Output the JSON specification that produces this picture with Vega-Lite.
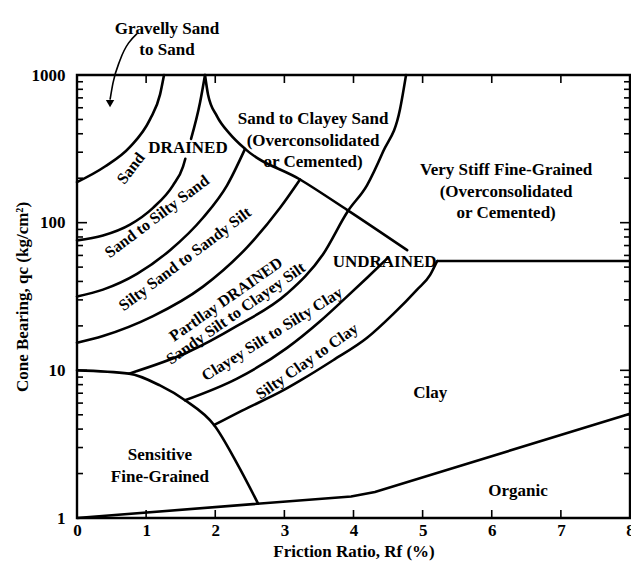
{
  "$schema": "https://vega.github.io/schema/vega-lite/v6.json",
  "width": 553,
  "height": 443,
  "autosize": {"type": "none"},
  "padding": {"left": 77, "top": 75, "right": 1, "bottom": 47},
  "background": "white",
  "config": {
    "view": {"stroke": "black", "strokeWidth": 2.4},
    "font": "Liberation Serif",
    "axis": {
      "labelFont": "Liberation Serif", "labelFontSize": 17, "labelFontWeight": "bold", "labelColor": "black",
      "titleFont": "Liberation Serif", "titleFontSize": 17, "titleFontWeight": "bold", "titleColor": "black",
      "ticks": false, "domain": false, "grid": false, "labelFlush": false
    },
    "text": {"font": "Liberation Serif", "fontWeight": "bold", "color": "black"}
  },
  "datasets": {
    "curves": [
      {"id": "a1", "x": 0, "y": 188}, {"id": "a1", "x": 0.405, "y": 240}, {"id": "a1", "x": 0.767, "y": 326}, {"id": "a1", "x": 1.056, "y": 501}, {"id": "a1", "x": 1.201, "y": 736}, {"id": "a1", "x": 1.259, "y": 1000},
      {"id": "a2lo", "x": 0, "y": 75.9}, {"id": "a2lo", "x": 0.376, "y": 81.9}, {"id": "a2lo", "x": 0.767, "y": 97}, {"id": "a2lo", "x": 1.1, "y": 126}, {"id": "a2lo", "x": 1.389, "y": 179}, {"id": "a2lo", "x": 1.534, "y": 240}, {"id": "a2lo", "x": 1.567, "y": 271},
      {"id": "a2hi", "x": 1.65, "y": 369}, {"id": "a2hi", "x": 1.78, "y": 651}, {"id": "a2hi", "x": 1.852, "y": 1000},
      {"id": "diag", "x": 1.852, "y": 1000}, {"id": "diag", "x": 1.896, "y": 736}, {"id": "diag", "x": 2.026, "y": 525}, {"id": "diag", "x": 2.214, "y": 398}, {"id": "diag", "x": 2.431, "y": 316}, {"id": "diag", "x": 3.227, "y": 196}, {"id": "diag", "x": 3.907, "y": 122}, {"id": "diag", "x": 4.776, "y": 65.1},
      {"id": "a3", "x": 0, "y": 31.6}, {"id": "a3", "x": 0.376, "y": 35.2}, {"id": "a3", "x": 0.868, "y": 45.0}, {"id": "a3", "x": 1.346, "y": 65.1}, {"id": "a3", "x": 1.823, "y": 108}, {"id": "a3", "x": 2.171, "y": 179}, {"id": "a3", "x": 2.431, "y": 316},
      {"id": "a4", "x": 0, "y": 15.4}, {"id": "a4", "x": 0.376, "y": 17.1}, {"id": "a4", "x": 1.1, "y": 23.3}, {"id": "a4", "x": 1.823, "y": 36.9}, {"id": "a4", "x": 2.46, "y": 68.1}, {"id": "a4", "x": 2.938, "y": 126}, {"id": "a4", "x": 3.227, "y": 196},
      {"id": "sens", "x": 0, "y": 10}, {"id": "sens", "x": 0.753, "y": 9.5}, {"id": "sens", "x": 1.2, "y": 7.9}, {"id": "sens", "x": 1.563, "y": 6.27}, {"id": "sens", "x": 1.983, "y": 4.26}, {"id": "sens", "x": 2.33, "y": 2.27}, {"id": "sens", "x": 2.62, "y": 1.25},
      {"id": "a5", "x": 0.753, "y": 9.5}, {"id": "a5", "x": 1.592, "y": 13.2}, {"id": "a5", "x": 2.315, "y": 20}, {"id": "a5", "x": 3.039, "y": 33.1}, {"id": "a5", "x": 3.56, "y": 61.2}, {"id": "a5", "x": 3.92, "y": 120}, {"id": "a5", "x": 4.195, "y": 179}, {"id": "a5", "x": 4.427, "y": 302}, {"id": "a5", "x": 4.672, "y": 584}, {"id": "a5", "x": 4.76, "y": 1000},
      {"id": "a6", "x": 1.563, "y": 6.27}, {"id": "a6", "x": 2.315, "y": 8.79}, {"id": "a6", "x": 3.039, "y": 14.2}, {"id": "a6", "x": 3.517, "y": 21.5}, {"id": "a6", "x": 3.878, "y": 30.7}, {"id": "a6", "x": 4.197, "y": 42.4}, {"id": "a6", "x": 4.5, "y": 58},
      {"id": "a7", "x": 1.983, "y": 4.26}, {"id": "a7", "x": 2.388, "y": 5.34}, {"id": "a7", "x": 2.967, "y": 7.25}, {"id": "a7", "x": 3.227, "y": 8.51}, {"id": "a7", "x": 3.705, "y": 11.7}, {"id": "a7", "x": 4.197, "y": 16.6}, {"id": "a7", "x": 4.573, "y": 24.0}, {"id": "a7", "x": 4.92, "y": 35.2}, {"id": "a7", "x": 5.109, "y": 44.3}, {"id": "a7", "x": 5.21, "y": 55}
    ],
    "straight": [
      {"id": "org", "x": 0, "y": 1}, {"id": "org", "x": 3.965, "y": 1.4}, {"id": "org", "x": 4.31, "y": 1.5}, {"id": "org", "x": 8, "y": 5.08},
      {"id": "horiz", "x": 5.21, "y": 55}, {"id": "horiz", "x": 8, "y": 55}
    ],
    "arrow": [
      {"x": 0.868, "y": 1905}, {"x": 0.622, "y": 1259}, {"x": 0.521, "y": 885}, {"x": 0.478, "y": 681}
    ],
    "arrowhead": [{"x": 0.478, "y": 640}],
    "yticksL": [{"x": 0, "y": 2}, {"x": 0, "y": 3}, {"x": 0, "y": 4}, {"x": 0, "y": 5}, {"x": 0, "y": 6}, {"x": 0, "y": 7}, {"x": 0, "y": 8}, {"x": 0, "y": 9}, {"x": 0, "y": 20}, {"x": 0, "y": 30}, {"x": 0, "y": 40}, {"x": 0, "y": 50}, {"x": 0, "y": 60}, {"x": 0, "y": 70}, {"x": 0, "y": 80}, {"x": 0, "y": 90}, {"x": 0, "y": 200}, {"x": 0, "y": 300}, {"x": 0, "y": 400}, {"x": 0, "y": 500}, {"x": 0, "y": 600}, {"x": 0, "y": 700}, {"x": 0, "y": 800}, {"x": 0, "y": 900}],
    "yticksR": [{"x": 8, "y": 2}, {"x": 8, "y": 3}, {"x": 8, "y": 4}, {"x": 8, "y": 5}, {"x": 8, "y": 6}, {"x": 8, "y": 7}, {"x": 8, "y": 8}, {"x": 8, "y": 9}, {"x": 8, "y": 20}, {"x": 8, "y": 30}, {"x": 8, "y": 40}, {"x": 8, "y": 50}, {"x": 8, "y": 60}, {"x": 8, "y": 70}, {"x": 8, "y": 80}, {"x": 8, "y": 90}, {"x": 8, "y": 200}, {"x": 8, "y": 300}, {"x": 8, "y": 400}, {"x": 8, "y": 500}, {"x": 8, "y": 600}, {"x": 8, "y": 700}, {"x": 8, "y": 800}, {"x": 8, "y": 900}],
    "ymajL": [{"x": 0, "y": 10}, {"x": 0, "y": 100}],
    "ymajR": [{"x": 8, "y": 10}, {"x": 8, "y": 100}],
    "xticksT": [{"x": 1, "y": 1000}, {"x": 2, "y": 1000}, {"x": 3, "y": 1000}, {"x": 4, "y": 1000}, {"x": 5, "y": 1000}, {"x": 6, "y": 1000}, {"x": 7, "y": 1000}],
    "xticksB": [{"x": 1, "y": 1}, {"x": 2, "y": 1}, {"x": 3, "y": 1}, {"x": 4, "y": 1}, {"x": 5, "y": 1}, {"x": 6, "y": 1}, {"x": 7, "y": 1}],
    "labels": [
      {"t": "Gravelly Sand\nto Sand", "x": 1.302, "y": 2056},
      {"t": "Sand to Clayey Sand\n(Overconsolidated\nor Cemented)", "x": 3.415, "y": 501},
      {"t": "DRAINED", "x": 1.606, "y": 321},
      {"t": "Very Stiff Fine-Grained\n(Overconsolidated\nor Cemented)", "x": 6.208, "y": 226},
      {"t": "UNDRAINED", "x": 4.45, "y": 54},
      {"t": "Clay", "x": 5.109, "y": 7.02},
      {"t": "Sensitive\nFine-Grained", "x": 1.2, "y": 2.67},
      {"t": "Organic", "x": 6.38, "y": 1.52}
    ],
    "lab52": [{"t": "Sand", "x": 0.78, "y": 233}],
    "lab37": [{"t": "Sand to Silty Sand", "x": 1.158, "y": 110}, {"t": "Silty Sand to Sandy Silt", "x": 1.563, "y": 56.7}],
    "lab35": [{"t": "Partllay DRAINED\nSandy Silt to Clayey Silt", "x": 2.156, "y": 30.2}, {"t": "Silty Clay to Clay", "x": 3.328, "y": 11.5}],
    "lab32": [{"t": "Clayey Silt to Silty Clay", "x": 2.822, "y": 17.6}]
  },
  "encoding": {
    "x": {"field": "x", "type": "quantitative", "scale": {"domain": [0, 8], "nice": false, "zero": false},
      "axis": {"orient": "bottom", "values": [0, 1, 2, 3, 4, 5, 6, 7, 8], "labelPadding": 4,
        "title": "Friction Ratio, Rf (%)", "titleY": 33, "titleBaseline": "middle"}},
    "y": {"field": "y", "type": "quantitative", "scale": {"type": "log", "domain": [1, 1000], "nice": false},
      "axis": {"orient": "left", "values": [1, 10, 100, 1000],
        "labelExpr": "datum.value == 1000 ? '1000' : datum.value == 100 ? '100' : datum.value == 10 ? '10' : '1'",
        "labelPadding": 12,
        "title": "Cone Bearing, qc (kg/cm²)", "titleX": -55, "titleY": 221.5, "titleAngle": -90, "titleBaseline": "middle"}}
  },
  "layer": [
    {
      "data": {"name": "curves"},
      "mark": {"type": "line", "interpolate": "monotone", "stroke": "black", "strokeWidth": 2.6, "strokeCap": "round"},
      "encoding": {"detail": {"field": "id"}}
    },
    {
      "data": {"name": "straight"},
      "mark": {"type": "line", "interpolate": "linear", "stroke": "black", "strokeWidth": 2.6},
      "encoding": {"detail": {"field": "id"}}
    },
    {
      "data": {"name": "arrow"},
      "mark": {"type": "line", "interpolate": "monotone", "stroke": "black", "strokeWidth": 1.6},
      "encoding": {}
    },
    {
      "data": {"name": "arrowhead"},
      "mark": {"type": "point", "shape": "triangle-down", "filled": true, "color": "black", "size": 70, "opacity": 1}
    },
    {
      "data": {"name": "yticksL"},
      "mark": {"type": "tick", "orient": "horizontal", "size": 6, "thickness": 1.6, "xOffset": 3, "color": "black", "opacity": 1}
    },
    {
      "data": {"name": "yticksR"},
      "mark": {"type": "tick", "orient": "horizontal", "size": 6, "thickness": 1.6, "xOffset": -3, "color": "black", "opacity": 1}
    },
    {
      "data": {"name": "ymajL"},
      "mark": {"type": "tick", "orient": "horizontal", "size": 10, "thickness": 1.6, "xOffset": 5, "color": "black", "opacity": 1}
    },
    {
      "data": {"name": "ymajR"},
      "mark": {"type": "tick", "orient": "horizontal", "size": 10, "thickness": 1.6, "xOffset": -5, "color": "black", "opacity": 1}
    },
    {
      "data": {"name": "xticksT"},
      "mark": {"type": "tick", "orient": "vertical", "size": 8, "thickness": 1.6, "yOffset": 4, "color": "black", "opacity": 1}
    },
    {
      "data": {"name": "xticksB"},
      "mark": {"type": "tick", "orient": "vertical", "size": 8, "thickness": 1.6, "yOffset": -4, "color": "black", "opacity": 1}
    },
    {
      "data": {"name": "labels"},
      "mark": {"type": "text", "fontSize": 17, "align": "center", "baseline": "middle", "lineBreak": "\n", "lineHeight": 21.5},
      "encoding": {"text": {"field": "t"}}
    },
    {
      "data": {"name": "lab52"},
      "mark": {"type": "text", "fontSize": 16, "align": "center", "baseline": "middle", "angle": 308},
      "encoding": {"text": {"field": "t"}}
    },
    {
      "data": {"name": "lab37"},
      "mark": {"type": "text", "fontSize": 16, "align": "center", "baseline": "middle", "angle": 323},
      "encoding": {"text": {"field": "t"}}
    },
    {
      "data": {"name": "lab35"},
      "mark": {"type": "text", "fontSize": 16, "align": "center", "baseline": "middle", "angle": 325, "lineBreak": "\n", "lineHeight": 17},
      "encoding": {"text": {"field": "t"}}
    },
    {
      "data": {"name": "lab32"},
      "mark": {"type": "text", "fontSize": 16, "align": "center", "baseline": "middle", "angle": 328},
      "encoding": {"text": {"field": "t"}}
    }
  ]
}
